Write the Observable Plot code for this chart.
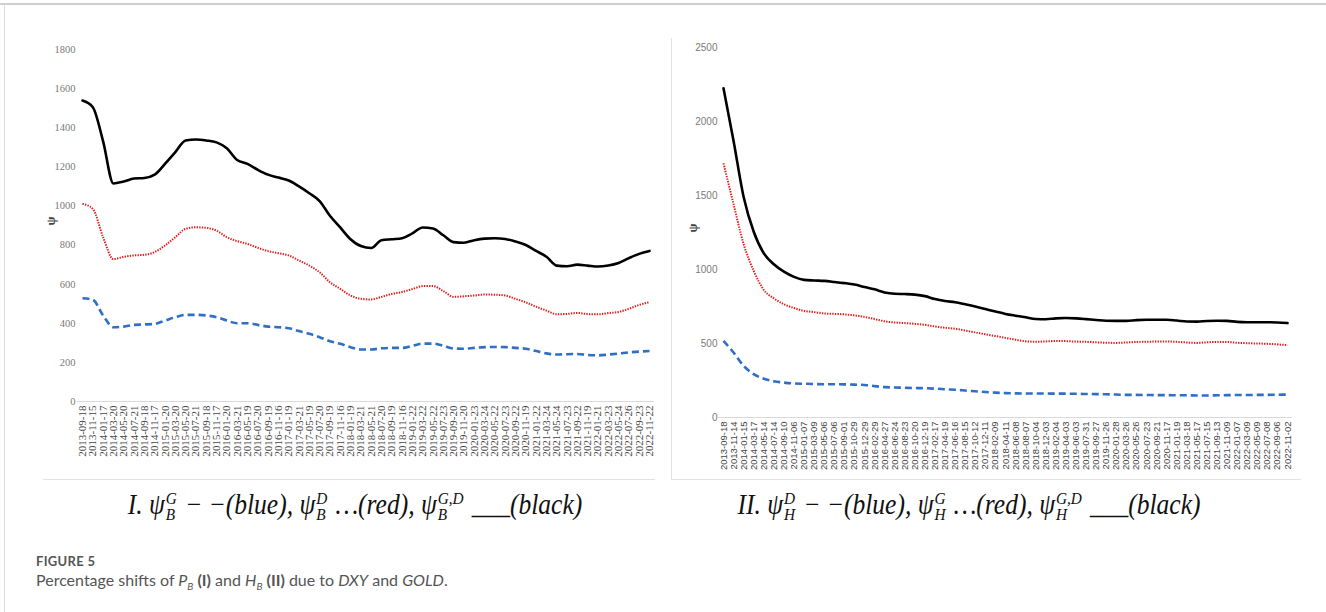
<!DOCTYPE html>
<html>
<head>
<meta charset="utf-8">
<script src="https://cdn.jsdelivr.net/npm/d3@7"></script>
<script src="https://cdn.jsdelivr.net/npm/@observablehq/plot@0.6"></script>
<style>
  html, body { margin: 0; padding: 0; background: #fff; }
  #page { position: relative; width: 1326px; height: 612px; overflow: hidden; background: #fff; }
  .abs { position: absolute; }
  .line { position: absolute; background: #e2e2e2; }
  .cap { position: absolute; text-align: center; font-family: "Liberation Serif", "DejaVu Serif", serif; font-style: italic; font-size: 29px; line-height: 1; color: #111; white-space: nowrap; transform: scaleX(0.88); transform-origin: 50% 50%; }
  .ss { display: inline-flex; flex-direction: column; vertical-align: 10px; font-size: 0.6em; line-height: 0.9; margin-left: 1px; margin-right: 2px; text-align: left; }
  .fig { position: absolute; font-family: Lato, "Open Sans", sans-serif; color: #555; white-space: nowrap; }
  #left svg text { font-family: "Liberation Serif", "Times New Roman", serif !important; }
  #right svg text { font-family: "Liberation Sans Narrow", "Liberation Sans", Arial, sans-serif !important; }
  #left svg text.psi, #right svg text.psi { font-family: "Liberation Serif", serif !important; }
</style>
</head>
<body>
<div id="page">
  <div class="line" style="left:0;top:3px;width:1326px;height:2px;background:#cfcfcf"></div>
  <div class="line" style="left:4px;top:4px;width:1px;height:608px;background:#dcdcdc"></div>
  <div class="line" style="left:43px;top:479px;width:612px;height:1px"></div>
  <div class="line" style="left:671px;top:38px;width:1px;height:442px"></div>
  <div class="line" style="left:671px;top:479px;width:630px;height:1px"></div>
  <div id="left" class="abs" style="left:0;top:0"></div>
  <div id="right" class="abs" style="left:663px;top:0"></div>
  <div class="cap" style="left:40px;top:490px;width:630px">I. ψ<span class="ss"><span>G</span><span>B</span></span> − −(blue), ψ<span class="ss"><span>D</span><span>B</span></span> …(red), ψ<span class="ss"><span>G,D</span><span>B</span></span> ___(black)</div>
  <div class="cap" style="left:664px;top:490px;width:610px">II. ψ<span class="ss"><span>D</span><span>H</span></span> − −(blue), ψ<span class="ss"><span>G</span><span>H</span></span> …(red), ψ<span class="ss"><span>G,D</span><span>H</span></span> ___(black)</div>
  <div class="fig" style="left:36px;top:553px;font-size:13px;font-weight:bold;letter-spacing:0.3px">FIGURE 5</div>
  <div class="fig" style="left:36px;top:570px;font-size:16px">Percentage shifts of <i>P</i><sub style="font-size:10px"><i>B</i></sub> <b>(I)</b> and <i>H</i><sub style="font-size:10px"><i>B</i></sub> <b>(II)</b> due to <i>DXY</i> and <i>GOLD</i>.</div>
</div>
<script>
// ---------- Panel I data ----------
const leftDates = ["2013-09-18","2013-11-15","2014-01-17","2014-03-20","2014-05-20","2014-07-21","2014-09-18","2014-11-17",
  "2015-01-20","2015-03-20","2015-05-20","2015-07-21","2015-09-18","2015-11-17","2016-01-20","2016-03-21","2016-05-19",
  "2016-07-20","2016-09-19","2016-11-16","2017-01-19","2017-03-21","2017-05-19","2017-07-20","2017-09-19","2017-11-16",
  "2018-01-19","2018-03-21","2018-05-21","2018-07-20","2018-09-19","2018-11-16","2019-01-22","2019-03-22","2019-05-22",
  "2019-07-23","2019-09-20","2019-11-20","2020-01-23","2020-03-24","2020-05-22","2020-07-23","2020-09-22","2020-11-19",
  "2021-01-22","2021-03-24","2021-05-24","2021-07-23","2021-09-22","2021-11-19","2022-01-21","2022-03-23","2022-05-24",
  "2022-07-26","2022-09-23","2022-11-22"];
const leftBlue = [528,520,440,380,383,392,394,397,414,431,443,443,440,431,414,400,400,392,383,380,375,360,346,329,308,295,278,266,
  266,272,274,274,285,296,296,285,271,270,274,278,279,278,274,270,258,246,240,242,243,238,236,240,245,251,255,258];
const leftRed = [1011,985,840,728,740,747,750,764,798,840,883,891,888,874,840,820,806,786,769,758,747,721,695,661,610,576,542,525,
  522,535,550,560,575,590,590,565,535,538,542,547,546,542,525,507,485,465,446,448,453,447,446,452,458,474,494,508];
const leftBlack = [1539,1505,1330,1115,1125,1140,1143,1160,1215,1275,1335,1340,1335,1325,1295,1235,1215,1185,1160,1145,1130,1100,
  1065,1025,950,890,830,795,785,825,830,835,860,890,885,850,815,812,825,833,835,831,818,800,770,740,695,692,700,695,690,695,708,733,755,770];
const leftYTicks = [0,200,400,600,800,1000,1200,1400,1600,1800];

// ---------- Panel II data ----------
const rightDates = ["2013-09-18","2013-11-14","2014-01-15","2014-03-17","2014-05-14","2014-07-14","2014-09-10","2014-11-06",
  "2015-01-07","2015-03-09","2015-05-06","2015-07-06","2015-09-01","2015-10-29","2015-12-29","2016-02-29","2016-04-27",
  "2016-06-24","2016-08-23","2016-10-20","2016-12-19","2017-02-17","2017-04-19","2017-06-16","2017-08-15","2017-10-12",
  "2017-12-11","2018-02-09","2018-04-11","2018-06-08","2018-08-07","2018-10-04","2018-12-03","2019-02-04","2019-04-03",
  "2019-06-03","2019-07-31","2019-09-27","2019-11-26","2020-01-28","2020-03-26","2020-05-26","2020-07-23","2020-09-21",
  "2020-11-17","2021-01-19","2021-03-18","2021-05-17","2021-07-15","2021-09-13","2021-11-09","2022-01-07","2022-03-09",
  "2022-05-09","2022-07-08","2022-09-06","2022-11-02"];
const rightBlue = [518,439,349,293,262,245,236,230,228,226,225,225,224,222,220,212,205,203,201,199,198,195,191,187,182,177,172,168,
  165,163,162,162,162,161,161,160,159,158,157,155,153,153,152,151,151,150,150,149,149,150,151,152,152,153,153,154,155];
const rightRed = [1718,1441,1171,991,862,805,765,740,720,712,703,700,697,690,680,665,650,642,638,633,626,615,606,600,588,575,562,550,
  538,526,515,512,514,517,516,513,511,508,505,504,507,510,512,513,514,511,507,504,508,511,510,505,502,500,498,494,489];
const rightBlack = [2225,1869,1490,1255,1110,1035,985,950,930,926,923,916,908,898,882,866,845,836,834,830,820,800,787,779,765,750,733,
  716,700,688,677,666,664,670,672,670,665,659,654,653,653,658,660,660,660,655,649,648,652,654,653,646,644,644,644,642,638];
const rightYTicks = [0,500,1000,1500,2000,2500];

const BLUE = "#2f6fc6", RED = "#e0201c", BLACK = "#000";

function panel(o) {
  const n = o.dates.length;
  const rows = s => s.map((v, i) => ({i, v}));
  const svg = Plot.plot({
    width: 663, height: 480,
    marginLeft: o.ml, marginRight: o.mr, marginTop: o.mt, marginBottom: o.mb,
    x: {type: "linear", domain: [0, n - 1], axis: null},
    y: {domain: o.ydom, axis: null},
    style: {background: "transparent", overflow: "visible", fontSize: o.fs + "px"},
    marks: [
      Plot.ruleY([0], {x1: -0.5, x2: n - 0.5, stroke: "#d9d9d9", strokeWidth: 1}),
      Plot.axisY(o.yticks, {anchor: "left", tickSize: 0, tickPadding: o.ypad, label: null,
        tickFormat: d => String(d), fontSize: o.yfs, fill: "#7a7a7a"}),
      Plot.axisX(d3.range(n), {anchor: "bottom", tickSize: 0, tickPadding: 4, tickRotate: -90, label: null,
        tickFormat: i => o.dates[i], fontSize: o.fs, fill: "#444"}),
      Plot.text(["ψ"], {frameAnchor: "left", dx: o.psiDx, rotate: -90,
        fontSize: 13, fontWeight: "bold", fill: "#444"}),
      Plot.line(rows(o.blue), {x: "i", y: "v", stroke: BLUE, strokeWidth: 2.6, strokeDasharray: "7,4",
        strokeLinecap: "butt", curve: "monotone-x"}),
      Plot.line(rows(o.red), {x: "i", y: "v", stroke: RED, strokeWidth: 2, strokeDasharray: "1.4,1.2",
        strokeLinecap: "butt", curve: "monotone-x"}),
      Plot.line(rows(o.black), {x: "i", y: "v", stroke: BLACK, strokeWidth: 2.6, curve: "monotone-x"})
    ]
  });
  d3.select(svg).selectAll("text").filter(function() { return this.textContent === "ψ"; }).classed("psi", true);
  return svg;
}

document.getElementById("left").append(panel({
  dates: leftDates, blue: leftBlue, red: leftRed, black: leftBlack, yticks: leftYTicks, ydom: [0, 1800],
  ml: 82, mr: 14, mt: 49, mb: 79, ypad: 7, psiDx: -32, fs: 11, yfs: 10.5
}));
document.getElementById("right").append(panel({
  dates: rightDates, blue: rightBlue, red: rightRed, black: rightBlack, yticks: rightYTicks, ydom: [0, 2500],
  ml: 60, mr: 39, mt: 47, mb: 63, ypad: 6, psiDx: -31, fs: 9.5, yfs: 10
}));
</script>
</body>
</html>
